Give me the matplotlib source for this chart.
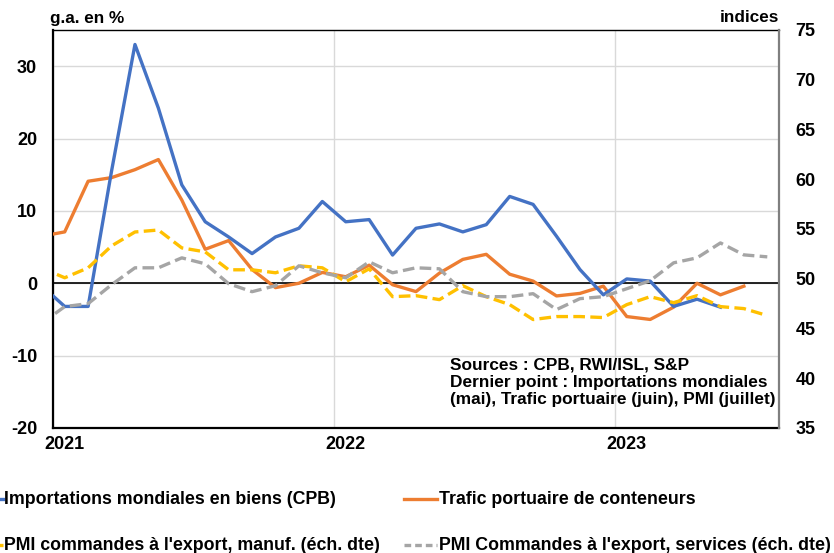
import numpy as np
import pandas as pd
import matplotlib
matplotlib.use("Agg")
import matplotlib.pyplot as plt
from matplotlib.lines import Line2D

plt.rcParams['font.family'] = ['Liberation Sans', 'DejaVu Sans']
plt.rcParams['font.weight'] = 'bold'
plt.rcParams['axes.unicode_minus'] = False

# months from Dec 2020 (first point is clipped by the axis) to Jul 2023
months = pd.period_range('2020-12', '2023-07', freq='M')

# g.a. en % (left axis)
imports_cpb = [-0.3, -3.2, -3.2, 15.5, 33.0, 24.2, 13.6, 8.5, 6.4, 4.1, 6.4, 7.6,
               11.3, 8.5, 8.8, 3.9, 7.6, 8.2, 7.1, 8.1, 12.0, 10.9, 6.5, 1.9,
               -1.6, 0.6, 0.3, -3.2, -2.2, -3.3]
port_traffic = [6.5, 7.1, 14.1, 14.6, 15.7, 17.1, 11.5, 4.7, 5.9, 1.9, -0.6, 0.0,
                1.5, 0.9, 2.5, -0.2, -1.15, 1.4, 3.3, 4.0, 1.25, 0.3, -1.75, -1.4,
                -0.4, -4.6, -5.0, -3.3, 0.0, -1.6, -0.4]

# indices (right axis)
pmi_manuf = [51.1, 50.1, 51.1, 53.3, 54.7, 54.9, 53.1, 52.7, 50.9, 50.9, 50.6, 51.3,
             51.1, 49.7, 51.0, 48.2, 48.3, 47.9, 49.3, 48.2, 47.4, 45.9, 46.2, 46.2,
             46.1, 47.4, 48.2, 47.6, 48.3, 47.2, 47.0, 46.3]
pmi_services = [45.5, 47.2, 47.5, 49.4, 51.1, 51.1, 52.1, 51.5, 49.5, 48.7, 49.3, 51.3,
                50.6, 50.1, 51.7, 50.6, 51.1, 51.0, 48.7, 48.2, 48.2, 48.5, 46.9, 48.0,
                48.2, 49.0, 49.8, 51.6, 52.1, 53.6, 52.4, 52.2]

labels = ["Importations mondiales en biens (CPB)",
          "Trafic portuaire de conteneurs",
          "PMI commandes à l'export, manuf. (éch. dte)",
          "PMI Commandes à l'export, services (éch. dte)"]
colors = ['#4472C4', '#ED7D31', '#FFC000', '#A5A5A5']

# month position: mid-month, Jan 2021 starts at 0
xpos = np.array([(p.year - 2021) * 12 + (p.month - 1) + 0.5 for p in months])

fig = plt.figure(figsize=(8.34, 5.53), dpi=100)
ax = fig.add_axes([53/834, 1 - 428/553, (779 - 53)/834, (428 - 30)/553])
ax2 = ax.twinx()

lw = 2.4
ax.plot(xpos[:len(imports_cpb)], imports_cpb, color=colors[0], lw=lw, zorder=4)
ax.plot(xpos[:len(port_traffic)], port_traffic, color=colors[1], lw=lw, zorder=3)
ax2.plot(xpos[:len(pmi_manuf)], pmi_manuf, color=colors[2], lw=lw, dashes=(3.5, 1.6))
ax2.plot(xpos[:len(pmi_services)], pmi_services, color=colors[3], lw=lw, dashes=(3.5, 1.6))

ax.set_xlim(0, 31)
ax.set_ylim(-20, 35)
ax2.set_ylim(35, 75)
ax.set_yticks([-20, -10, 0, 10, 20, 30])
ax2.set_yticks([35, 40, 45, 50, 55, 60, 65, 70, 75])

ax.set_xticks([0, 12, 24])
ax.set_xticklabels([])
ax.set_xticks([0.5, 12.5, 24.5], minor=True)
ax.set_xticklabels(['2021', '2022', '2023'], minor=True)

ax.grid(axis='both', which='major', color='#D9D9D9', lw=1.0)
ax.axhline(0, color='black', lw=1.2, zorder=2)

ax.tick_params(axis='y', length=0, pad=11.5, labelsize=13)
ax.tick_params(axis='x', which='both', length=0, pad=6, labelsize=13)
ax2.tick_params(axis='y', length=0, pad=12, labelsize=13)

for s in ['left', 'bottom']:
    ax.spines[s].set_linewidth(1.6)
    ax.spines[s].set_color('black')
ax.spines['top'].set_linewidth(1.0)
ax.spines['right'].set_visible(False)
for s in ['left', 'bottom', 'top']:
    ax2.spines[s].set_visible(False)
ax2.spines['right'].set_color('#7F7F7F')
ax2.spines['right'].set_linewidth(1.6)

fig.text(50/834, 1 - 18/553, 'g.a. en %', fontsize=12.3, ha='left', va='center')
fig.text(779/834, 1 - 18/553, 'indices', fontsize=12.3, ha='right', va='center')

fig.text(450/834, 1 - 357/553,
         "Sources : CPB, RWI/ISL, S&P\nDernier point : Importations mondiales\n"
         "(mai), Trafic portuaire (juin), PMI (juillet)",
         fontsize=12.4, ha='left', va='top', linespacing=1.22)

# legend, laid out like the source (first column's keys fall off the left edge)
rows = [499, 545]
entries = [(0, -30, rows[0]), (1, 404, rows[0]), (2, -30, rows[1]), (3, 404, rows[1])]
for k, hx, hy in entries:
    yf = 1 - hy/553
    if k < 2:
        ln = Line2D([hx/834, (hx + 33)/834], [yf, yf], color=colors[k], lw=lw,
                    transform=fig.transFigure)
    else:
        ln = Line2D([hx/834, (hx + 33)/834], [yf, yf], color=colors[k], lw=lw,
                    dashes=(2.0, 1.2), transform=fig.transFigure)
    fig.add_artist(ln)
    tx = 4 if hx < 0 else 439
    fig.text(tx/834, yf, labels[k], fontsize=12.8, ha='left', va='center')

fig.savefig('out.png', dpi=100)
